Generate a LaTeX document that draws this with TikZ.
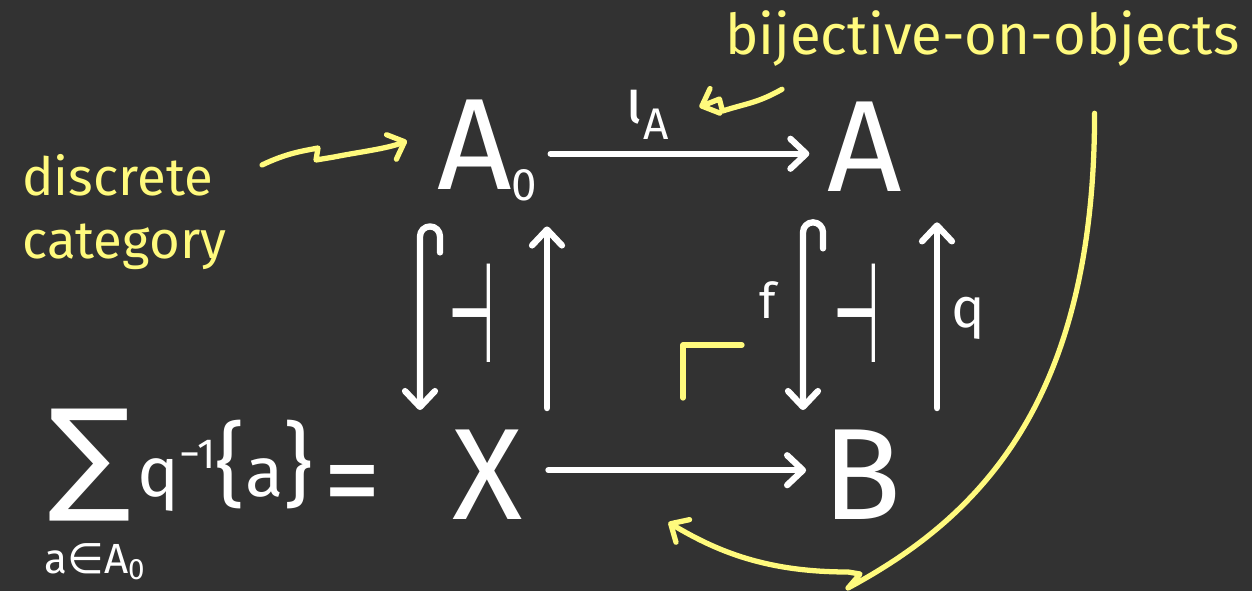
\documentclass[tikz,border=0pt]{standalone}
\usepackage{fontspec}
\setmainfont{Fira Sans}
\newfontfamily\symfont{DejaVu Sans}
\usetikzlibrary{arrows.meta,calc}
\definecolor{board}{RGB}{50,50,50}
\definecolor{chalk}{RGB}{255,250,125}

\begin{document}
\begin{tikzpicture}[
  x=0.02cm, y=0.02cm,
  obj/.style={inner sep=0pt, text=white, font=\fontsize{74}{74}\selectfont},
  lbl/.style={inner sep=0pt, text=white},
  tack/.style={lbl, font=\fontsize{80}{80}\symfont},
  note/.style={inner sep=0pt, text=chalk, font=\fontsize{30}{36}\selectfont, align=left},
  map/.style={draw=white, line width=3.6pt, line cap=round, line join=round, -{Straight Barb[length=9pt,width=17pt,round]}},
  doodle/.style={draw=chalk, line width=3pt, line cap=round, line join=round},
  doodlearrow/.style={doodle, -{Straight Barb[length=8pt,width=15pt,round]}}
]
\useasboundingbox (0,0) rectangle (1252,-591);
\fill[board] (0,0) rectangle (1252,-591);

% objects of the square
\node[obj, anchor=base west] (A0) at (437,-190) {A\raisebox{-6pt}{\fontsize{26}{26}\selectfont 0}};
\node[obj, anchor=base] (A) at (865,-192) {A};
\node[obj, anchor=base] (X) at (488,-520) {X};
\node[obj, anchor=base] (B) at (862,-520) {B};

% X written as a sum of fibres
\node[lbl, anchor=base, font=\fontsize{70}{70}\symfont] (sig) at (90,-498) {∑};
\node[lbl, anchor=base, font=\fontsize{24}{24}\selectfont] (idx) at (95,-573) {a{\symfont ∈}A\textsubscript{0}};
\node[lbl, anchor=base west, font=\fontsize{40}{40}\selectfont] (fib) at (137,-497) {q\raisebox{16pt}{\fontsize{24}{24}\selectfont −1}{\fontsize{52}{52}\selectfont\{}a{\fontsize{52}{52}\selectfont\}}\hspace{6pt}\raisebox{-13pt}{\fontsize{66}{66}\selectfont =}};

% horizontal maps
\draw[map, shorten <=0.26cm, shorten >=0.36cm] ([yshift=-0.06cm]A0.east) -- ([yshift=-0.06cm]A0.east -| A.west);
\draw[map, shorten <=0.5cm, shorten >=0.32cm] ([yshift=0.1cm]X.east) -- ([yshift=0.1cm]X.east -| B.west);
\node[lbl, anchor=base, font=\fontsize{36}{36}\selectfont] (iota) at (648,-124) {ι\textsubscript{A}};

% left adjunction
\coordinate (hookL) at ($(A0.south west)+(-17,-35)$);
\coordinate (upL) at ($(X.north)+(59,22)$);
\draw[map] ($(hookL)+(20,-16)$) -- ++(0,16) arc[start angle=0, end angle=180, radius=10] -- ($(hookL |- X.north)+(0,20)$);
\draw[map] (upL) -- ($(upL |- A0.south)+(0,-25)$);
\node[tack] (adjL) at (472,-313) {\scalebox{0.38}[1]{⊣}};

% right adjunction
\coordinate (hookR) at ($(A.south)+(-62,-40)$);
\coordinate (upR) at ($(B.north)+(75,22)$);
\draw[map] ($(hookR)+(20,-16)$) -- ++(0,16) arc[start angle=0, end angle=180, radius=10] -- ($(hookR |- B.north)+(0,20)$);
\draw[map] (upR) -- ($(upR |- A.south)+(0,-30)$);
\node[tack] (adjR) at (857,-313) {\scalebox{0.38}[1]{⊣}};
\node[lbl, font=\fontsize{28}{28}\selectfont] (f) at (768,-300) {f};
\node[lbl, font=\fontsize{32}{32}\selectfont] (q) at (968,-318) {q};

% pullback corner
\draw[doodle] (683,-398) -- (683,-345) -- (742,-345);

% yellow notes
\node[note, anchor=base west, font=\fontsize{32}{32}\selectfont] (bij) at (725,-55) {bijective-on-objects};
\node[note, anchor=north west] (disc) at (22,-154) {discrete\\category};

\draw[doodlearrow] ($(disc.north west)+(240,-11)$) .. controls +(25,12) and +(-15,-3) .. ++(56,17) -- ++(-2,-12) -- ++(18,3) .. controls +(25,5) and +(-20,-8) .. ($(A0.west)+(-30,10)$);
\draw[doodlearrow] ($(bij.south west)+(57,-22)$) .. controls +(-25,-14) and +(25,8) .. ($(iota.east)+(52,4)$) -- ++(-3,12) -- ++(-20,-8);
\draw[doodlearrow] ($(bij.south east)+(-145,-46)$) .. controls +(0,-290) and +(130,70) .. (848,-588) -- ++(12,14) -- ++(-12,2) .. controls +(-80,0) and +(50,-30) .. ($(X.south east)+(145,-2)$);
\end{tikzpicture}
\end{document}
